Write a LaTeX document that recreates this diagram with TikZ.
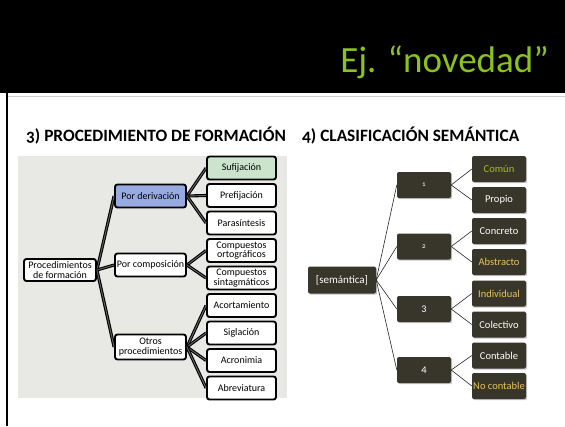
\documentclass[tikz,border=0pt]{standalone}
\usepackage{fontspec}
\setmainfont{Carlito}[Numbers=OldStyle]
\usetikzlibrary{shadows}
\definecolor{titlegreen}{RGB}{138,194,30}
\definecolor{panelgray}{RGB}{232,232,228}
\definecolor{derivblue}{RGB}{152,170,226}
\definecolor{sufgreen}{RGB}{204,228,204}
\definecolor{boxdark}{RGB}{56,54,42}
\definecolor{leafgreen}{RGB}{160,192,40}
\definecolor{leafgold}{RGB}{232,194,96}
\begin{document}
\begin{tikzpicture}[x=1pt,y=-1pt,
  lbox/.style={draw=black, line width=1.9pt, rounded corners=2.5pt, fill=white,
    minimum width=69pt, minimum height=23pt, inner sep=0.5pt, align=center,
    font=\fontsize{10}{9.6}\selectfont},
  lconn/.style={draw=black, line width=1.1pt, double=black!60, double distance=0.9pt},
  dbox/.style={fill=boxdark, rounded corners=2pt, text=white,
    drop shadow={opacity=0.45, shadow xshift=1.2pt, shadow yshift=-1.2pt},
    minimum width=54pt, minimum height=26pt, inner sep=0pt, align=center,
    font=\fontsize{10.5}{11}\selectfont},
  dconn/.style={draw=black!85, line width=0.6pt}]
\useasboundingbox (0,0) rectangle (565,426);
\fill[white] (0,0) rectangle (565,426);
% header
\fill[black] (0,0) rectangle (565,93);
\draw[black!20, line width=1.3pt] (8,96.8) -- (565,96.8);
\fill[black] (6,93) rectangle (8,426);
\node[anchor=base east, text=titlegreen, inner sep=0pt, font=\fontsize{37}{40}\selectfont] (title) at (549,72) {Ej. “novedad”};
% headings
\node[anchor=base west, inner sep=0pt, font=\bfseries\fontsize{17.3}{19}\selectfont] (h3) at (26,141.5) {3) PROCEDIMIENTO DE FORMACIÓN};
\node[anchor=base west, inner sep=0pt, font=\bfseries\fontsize{17.3}{19}\selectfont] (h4) at (302,141.5) {4) CLASIFICACIÓN SEMÁNTICA};
% left panel
\fill[panelgray] (18,156) rectangle (287,398);
% left connectors (drawn first, boxes on top)
\coordinate (rootE) at (97,270);
\coordinate (derivE) at (187,196);
\coordinate (compE) at (187,265);
\coordinate (otrosE) at (187,347);
% left tree nodes
\node[lbox, minimum width=72pt, minimum height=22pt] (root) at (60,270) {Procedimientos\\de formación};
\node[lbox, fill=derivblue, minimum width=71pt] (deriv) at (150.5,196) {Por derivación};
\node[lbox, minimum width=71pt] (comp) at (150.5,265) {Por composición};
\node[lbox, minimum width=71pt, minimum height=25pt] (otros) at (150.5,347) {Otros\\procedimientos};
\node[lbox, fill=sufgreen] (suf) at (241.5,168) {Sufijación};
\node[lbox] (pref) at (241.5,195.5) {Prefijación};
\node[lbox] (para) at (241.5,223) {Parasíntesis};
\node[lbox] (corto) at (241.5,250.5) {Compuestos\\ortográficos};
\node[lbox] (csint) at (241.5,278) {Compuestos\\sintagmáticos};
\node[lbox] (acort) at (241.5,305.5) {Acortamiento};
\node[lbox] (sigl) at (241.5,333) {Siglación};
\node[lbox] (acron) at (241.5,360.5) {Acronimia};
\node[lbox] (abrev) at (241.5,388) {Abreviatura};
\draw[lconn] (root.east) -- (deriv.west);
\draw[lconn] (root.east) -- (comp.west);
\draw[lconn] (root.east) -- (otros.west);
\draw[lconn] (deriv.east) -- (suf.west);
\draw[lconn] (deriv.east) -- (pref.west);
\draw[lconn] (deriv.east) -- (para.west);
\draw[lconn] (comp.east) -- (corto.west);
\draw[lconn] (comp.east) -- (csint.west);
\draw[lconn] (otros.east) -- (acort.west);
\draw[lconn] (otros.east) -- (sigl.west);
\draw[lconn] (otros.east) -- (acron.west);
\draw[lconn] (otros.east) -- (abrev.west);
% right tree
\node[dbox, minimum width=68pt, minimum height=27pt, font=\fontsize{11}{12}\selectfont] (sem) at (342,280) {[semántica]};
\node[dbox, font=\fontsize{7}{8}\selectfont] (n1) at (424,185) {1};
\node[dbox, font=\fontsize{7}{8}\selectfont] (n2) at (424,246.5) {2};
\node[dbox] (n3) at (424,309) {3};
\node[dbox] (n4) at (424,370) {4};
\node[dbox, text=leafgreen] (comun) at (499,169) {Común};
\node[dbox] (propio) at (499,200) {Propio};
\node[dbox] (concreto) at (499,231) {Concreto};
\node[dbox, text=leafgold] (abstracto) at (499,262) {Abstracto};
\node[dbox, text=leafgold] (indiv) at (499,293.5) {Individual};
\node[dbox] (colect) at (499,324.5) {Colectivo};
\node[dbox] (contable) at (499,355.5) {Contable};
\node[dbox, text=leafgold] (nocont) at (499,386) {No contable};
\draw[dconn] (sem.east) -- (n1.west);
\draw[dconn] (sem.east) -- (n2.west);
\draw[dconn] (sem.east) -- (n3.west);
\draw[dconn] (sem.east) -- (n4.west);
\draw[dconn] (n1.east) -- (comun.west);
\draw[dconn] (n1.east) -- (propio.west);
\draw[dconn] (n2.east) -- (concreto.west);
\draw[dconn] (n2.east) -- (abstracto.west);
\draw[dconn] (n3.east) -- (indiv.west);
\draw[dconn] (n3.east) -- (colect.west);
\draw[dconn] (n4.east) -- (contable.west);
\draw[dconn] (n4.east) -- (nocont.west);
\end{tikzpicture}
\end{document}
